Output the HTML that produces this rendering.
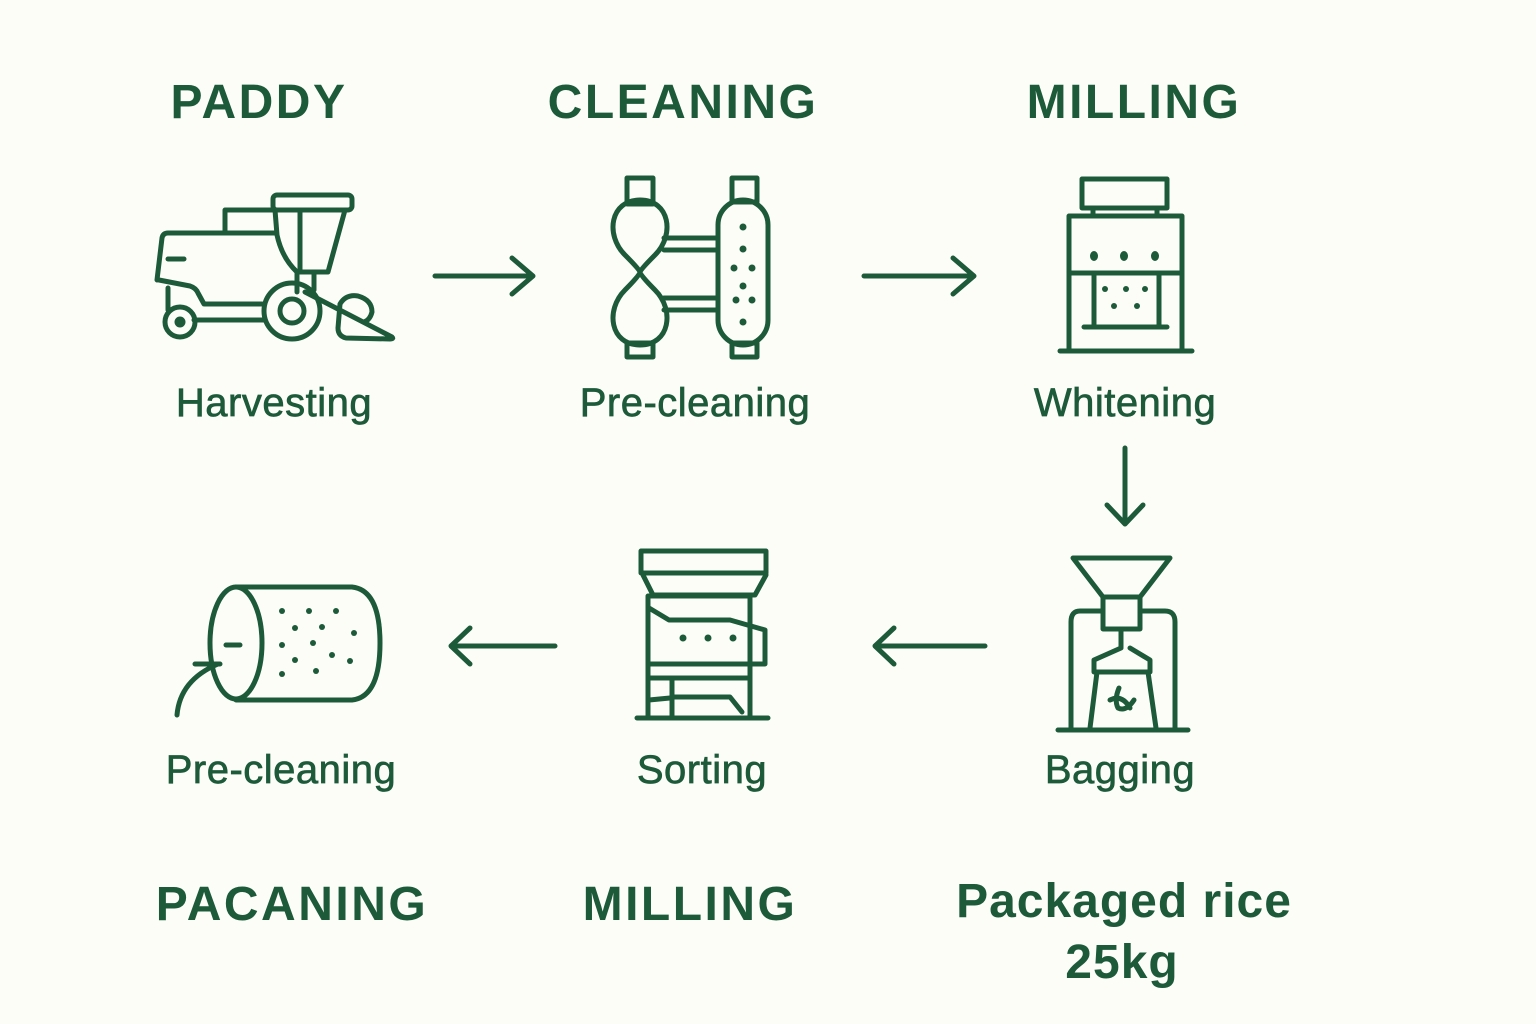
<!DOCTYPE html>
<html><head><meta charset="utf-8"><style>
html,body{margin:0;padding:0;background:#fdfdf8}
svg{display:block}
text{font-family:"Liberation Sans","DejaVu Sans",sans-serif;fill:#1d5a3a}
.h{font-size:48px;font-weight:bold;letter-spacing:2.5px}
.l{font-size:40px;letter-spacing:0.5px;stroke:#1d5a3a;stroke-width:0.7px}
</style></head><body>
<svg width="1536" height="1024" viewBox="0 0 1536 1024" xmlns="http://www.w3.org/2000/svg">
<rect width="1536" height="1024" fill="#fdfdf8"/>
<g text-anchor="middle">
<text class="h" x="259" y="118">PADDY</text>
<text class="h" x="683" y="118">CLEANING</text>
<text class="h" x="1134" y="118">MILLING</text>
<text class="l" x="274" y="416">Harvesting</text>
<text class="l" x="695" y="416">Pre-cleaning</text>
<text class="l" x="1125" y="416">Whitening</text>
<text class="l" x="281" y="783">Pre-cleaning</text>
<text class="l" x="702" y="783">Sorting</text>
<text class="l" x="1120" y="783">Bagging</text>
<text class="h" x="292" y="920">PACANING</text>
<text class="h" x="690" y="920">MILLING</text>
<text class="h" x="1124" y="917" style="letter-spacing:1px">Packaged rice</text>
<text class="h" x="1122" y="978" style="letter-spacing:1px">25kg</text>
</g>
<g fill="none" stroke="#1d5a3a" stroke-width="5" stroke-linecap="round" stroke-linejoin="round">
<!-- arrows -->
<path d="M435 276H532M512 258L533 276L512 294"/>
<path d="M864 276H973M953 258L974 276L953 294"/>
<path d="M1125 448V523M1107 505L1125 524L1143 505"/>
<path d="M555 646H452M470 628L451 646L470 664"/>
<path d="M985 646H876M894 628L875 646L894 664"/>
<!-- harvester -->
<path d="M157 280L162 238Q163 233 168 233L275 233"/>
<path d="M225 233V210H275"/>
<path d="M159 280L190 286Q196 288 198 293L204 304H262"/>
<path d="M168 259H184"/>
<rect x="273" y="195" width="79" height="15" rx="4"/>
<path d="M275 210L277 235Q282 258 297 272H328L345 210"/>
<path d="M300 210V272"/>
<path d="M297 272V292M314 272V290"/>
<path d="M168 288V310"/>
<circle cx="180" cy="322" r="15"/><circle cx="180" cy="322" r="3" fill="#1d5a3a"/>
<circle cx="292" cy="311" r="28"/><circle cx="292" cy="311" r="12"/>
<path d="M194 320H265"/>
<path d="M305 292L392 337Q394 339 390 339L346 338Q338 336 338 328L340 304Q346 294 358 296Q372 300 372 312Q370 320 364 322"/>
<!-- cleaning -->
<rect x="627" y="178" width="26" height="26"/>
<rect x="627" y="343" width="26" height="14"/>
<rect x="732" y="178" width="25" height="24"/>
<rect x="732" y="343" width="25" height="14"/>
<path d="M640 200C610 200 605 235 625 255Q640 270 640 272Q640 275 625 290C605 310 610 345 640 345C670 345 675 310 655 290Q640 275 640 272Q640 270 655 255C675 235 670 200 640 200Z"/>
<rect x="718" y="200" width="50" height="145" rx="25"/>
<path d="M664 238H718M664 250H718M664 298H718M664 310H718"/>
<g fill="#1d5a3a" stroke="none"><circle cx="743" cy="227" r="3.5"/><circle cx="743" cy="249" r="3.5"/><circle cx="734" cy="268" r="3.5"/><circle cx="752" cy="268" r="3.5"/><circle cx="743" cy="286" r="3.5"/><circle cx="736" cy="300" r="3.5"/><circle cx="752" cy="300" r="3.5"/><circle cx="743" cy="322" r="3.5"/></g>
<!-- whitening -->
<rect x="1082" y="179" width="85" height="29"/>
<path d="M1093 208V215M1157 208V215"/>
<path d="M1069 350V216H1182V350"/>
<path d="M1069 273H1182"/>
<path d="M1094 273V327M1159 273V327M1084 327H1167"/>
<path d="M1060 351H1192"/>
<g fill="#1d5a3a" stroke="none"><ellipse cx="1094" cy="256" rx="4" ry="5"/><ellipse cx="1124" cy="256" rx="4" ry="5"/><ellipse cx="1155" cy="256" rx="4" ry="5"/><circle cx="1105" cy="289" r="3"/><circle cx="1126" cy="289" r="3"/><circle cx="1145" cy="289" r="3"/><circle cx="1114" cy="306" r="3"/><circle cx="1137" cy="306" r="3"/></g>
<!-- drum -->
<ellipse cx="236" cy="643" rx="26" ry="56"/>
<path d="M236 587H352Q380 590 380 643Q380 697 352 700H236"/>
<path d="M226 645H240M195 664H220M177 715Q180 680 218 664"/>
<g fill="#1d5a3a" stroke="none"><circle cx="282" cy="611" r="3"/><circle cx="309" cy="611" r="3"/><circle cx="336" cy="611" r="3"/><circle cx="295" cy="628" r="3"/><circle cx="322" cy="627" r="3"/><circle cx="282" cy="645" r="3"/><circle cx="313" cy="643" r="3"/><circle cx="354" cy="633" r="3"/><circle cx="332" cy="655" r="3"/><circle cx="295" cy="660" r="3"/><circle cx="350" cy="661" r="3"/><circle cx="282" cy="674" r="3"/><circle cx="316" cy="671" r="3"/></g>
<!-- sorting -->
<rect x="641" y="551" width="125" height="22"/>
<path d="M643 575L653 595H755L766 575"/>
<path d="M648 718V596H750V718"/>
<path d="M649 608L669 620H730L765 630V664H649"/>
<path d="M649 678H750M672 678V718M672 697H730L742 712"/>
<path d="M649 700L670 698M637 718H768"/>
<g fill="#1d5a3a" stroke="none"><circle cx="683" cy="638" r="3.5"/><circle cx="708" cy="638" r="3.5"/><circle cx="733" cy="638" r="3.5"/></g>
<!-- bagging -->
<path d="M1073 558H1170L1140 597H1103Z"/>
<rect x="1103" y="597" width="37" height="32"/>
<path d="M1103 611H1080Q1071 611 1071 622V728M1140 611H1165Q1175 611 1175 622V728"/>
<path d="M1121 629V648L1094 660V672H1150V660L1130 648"/>
<path d="M1097 672L1090 728M1148 672L1156 728M1058 730H1188"/>
<path d="M1119 688Q1114 700 1118 708Q1126 712 1134 700M1110 700Q1122 694 1130 708"/>
</g>
</svg>
</body></html>
